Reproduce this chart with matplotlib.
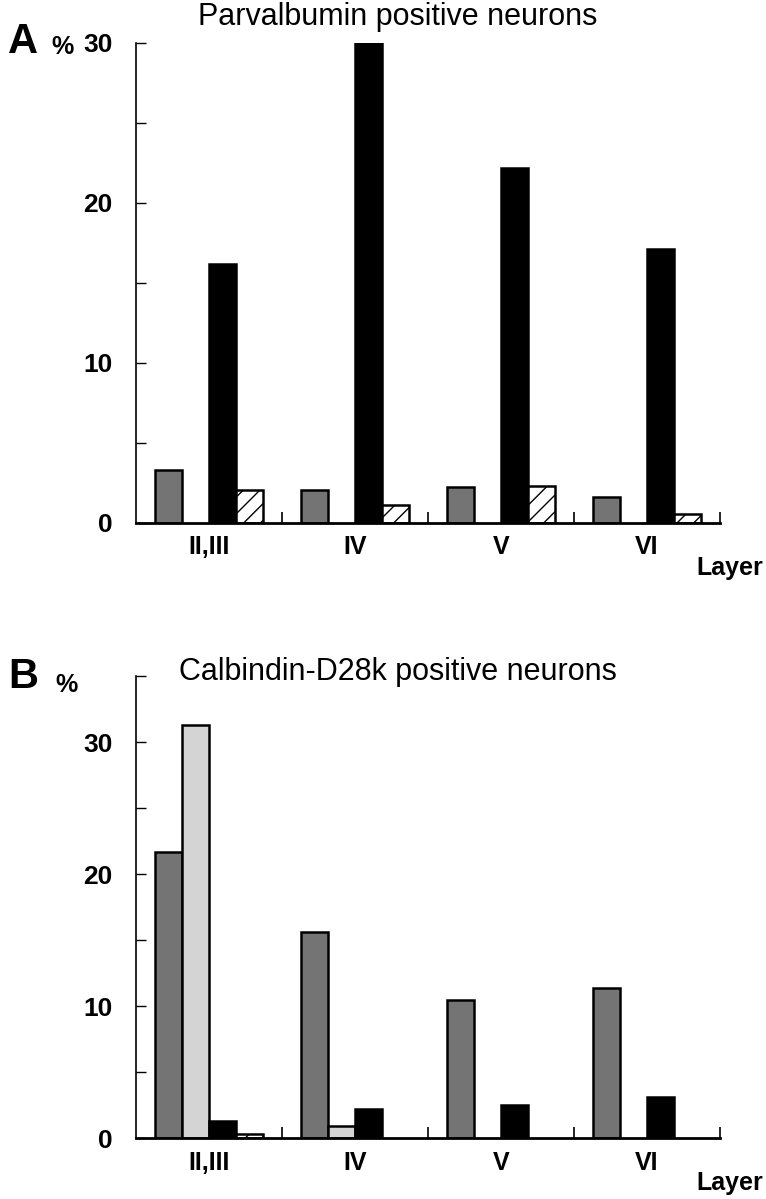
import numpy as np
import matplotlib
matplotlib.use('Agg')
import matplotlib.pyplot as plt

plt.rcParams['font.family'] = ['Liberation Sans', 'DejaVu Sans']
plt.rcParams['hatch.linewidth'] = 1.0

layers = ['II,III', 'IV', 'V', 'VI']

# panel A: parvalbumin positive neurons (%)
pv_dark = [3.3, 2.05, 2.25, 1.6]
pv_light = [0, 0, 0, 0]
pv_black = [16.2, 30.0, 22.2, 17.1]
pv_hatch = [2.05, 1.1, 2.3, 0.55]

# panel B: calbindin-D28k positive neurons (%)
cb_dark = [21.7, 15.6, 10.45, 11.4]
cb_light = [31.3, 0.9, 0, 0]
cb_black = [1.3, 2.2, 2.5, 3.1]
cb_hatch = [0.3, 0, 0, 0]

W, H = 766, 1199
fig = plt.figure(figsize=(W / 100, H / 100), dpi=100)

bold_narrow = ['Liberation Sans Narrow', 'Liberation Sans', 'DejaVu Sans']


def px(x, y):
    return x / W, 1 - y / H


def panel(rect, series, ymax, title, letter, letter_y, pct_xy, title_y, layer_y):
    ax = fig.add_axes(rect)
    styles = [dict(color='#747474'), dict(color='#d4d4d4'),
              dict(color='black'), dict(color='white', hatch='//')]
    bw = 0.185
    x0 = np.arange(len(layers)) + 0.13
    for k, (vals, st) in enumerate(zip(series, styles)):
        vals = np.array(vals, dtype=float)
        m = vals > 0
        ax.bar(x0[m] + k * bw, vals[m], width=bw, align='edge',
               edgecolor='black', linewidth=1.8, **st)
    ax.set_xlim(0, 4)
    ax.set_ylim(0, ymax)
    for s in ['top', 'right']:
        ax.spines[s].set_visible(False)
    ax.spines['left'].set_linewidth(1.2)
    ax.spines['bottom'].set_linewidth(2.0)

    ticks = np.arange(0, ymax + 0.1, 5)
    ax.set_yticks(ticks)
    ax.set_yticklabels([str(int(v)) if v % 10 == 0 else '' for v in ticks],
                       fontsize=19, fontweight='bold')
    ax.tick_params(axis='y', direction='in', length=7, width=1.0, pad=17)

    ax.set_xticks([1, 2, 3, 4])
    ax.set_xticklabels([])
    ax.tick_params(axis='x', which='major', direction='in', length=8, width=1.2)
    ax.set_xticks([0.5, 1.5, 2.5, 3.5], minor=True)
    ax.set_xticklabels(layers, minor=True, fontsize=18, fontweight='bold', family=bold_narrow)
    ax.tick_params(axis='x', which='minor', length=0, pad=9)

    fig.text(*px(398, title_y), title, fontsize=22, ha='center', va='center')
    fig.text(*px(23, letter_y), letter, fontsize=30, fontweight='bold', ha='center', va='center')
    fig.text(*px(*pct_xy), '%', fontsize=18, fontweight='bold', ha='center', va='center')
    fig.text(*px(730, layer_y), 'Layer', fontsize=18, fontweight='bold',
             ha='center', va='center', family=bold_narrow)
    return ax


# axes placement (pixels): y axis at x=136, x axis end at 720
left, right = 136, 720
panel([left / W, 1 - 523 / H, (right - left) / W, (523 - 43) / H],
      [pv_dark, pv_light, pv_black, pv_hatch], 30,
      'Parvalbumin positive neurons', 'A', 42, (62, 47), 17, 568)
panel([left / W, 1 - 1138 / H, (right - left) / W, (1138 - 676) / H],
      [cb_dark, cb_light, cb_black, cb_hatch], 35,
      'Calbindin-D28k positive neurons', 'B', 677, (67, 685), 672, 1183)

fig.savefig('out.png', dpi=100)
